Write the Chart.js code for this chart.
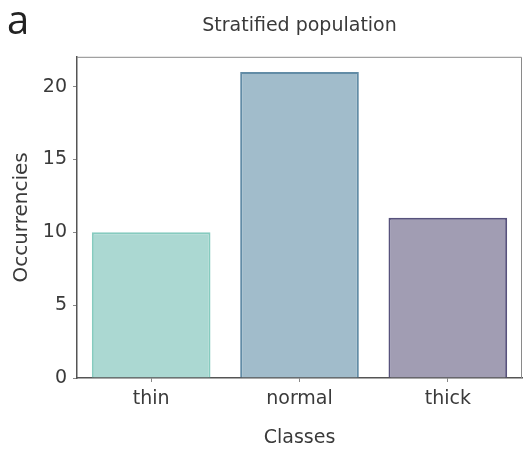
<!DOCTYPE html>
<html>
<head>
<meta charset="utf-8">
<script src="https://cdn.jsdelivr.net/npm/chart.js@4/dist/chart.umd.min.js"></script>
<style>
  body { margin: 0; background: #fff; }
  #wrap { width: 523px; height: 455px; }
</style>
</head>
<body>
<div id="wrap"><canvas id="strataChart" width="523" height="455"></canvas></div>
<script>
// values
const classes = ['thin', 'normal', 'thick'];
const occurrences = [10, 21, 11];
const yTicks = [0, 5, 10, 15, 20];

const fillColors = ['#abd8d2', '#a1bccb', '#a19db3'];
const edgeColors = ['#86cbbf', '#628ca6', '#57527c'];

const FONT = "'DejaVu Sans', sans-serif";
const TEXT = '#3a3a3a';

// panel letter + top/right spines
const framePlugin = {
    id: 'frame',
    afterDraw(chart) {
        const ctx = chart.ctx;
        const a = chart.chartArea;
        ctx.save();
        ctx.strokeStyle = '#8a8a8a';
        ctx.lineWidth = 1;
        ctx.beginPath();
        ctx.moveTo(a.left, a.top + 0.5);
        ctx.lineTo(a.right - 0.5, a.top + 0.5);
        ctx.lineTo(a.right - 0.5, a.bottom);
        ctx.stroke();
        ctx.fillStyle = '#222';
        ctx.font = "40px 'Open Sans', 'DejaVu Sans'";
        ctx.textBaseline = 'alphabetic';
        ctx.fillText('a', 7, 34);
        ctx.restore();
    }
};

document.addEventListener('DOMContentLoaded', () => {
    new Chart(document.getElementById('strataChart'), {
        type: 'bar',
        data: {
            labels: classes,
            datasets: [{
                data: occurrences,
                backgroundColor: fillColors,
                borderColor: edgeColors,
                borderWidth: 2,
                categoryPercentage: 1,
                barPercentage: 0.8
            }]
        },
        options: {
            responsive: false,
            animation: false,
            devicePixelRatio: 1,
            layout: { padding: { left: 0, right: 1, top: 0, bottom: 0 } },
            plugins: {
                legend: { display: false },
                tooltip: { enabled: false },
                title: {
                    display: true,
                    fullSize: false,
                    text: 'Stratified population',
                    color: TEXT,
                    font: { family: FONT, size: 19, weight: 'normal' },
                    padding: { top: 15, bottom: 19 }
                }
            },
            scales: {
                x: {
                    offset: true,
                    afterFit(scale) { scale.height = 77; },
                    grid: {
                        display: true,
                        offset: false,
                        drawOnChartArea: false,
                        drawTicks: true,
                        tickLength: 4,
                        color: '#888'
                    },
                    border: { display: true, color: '#555', width: 1.5 },
                    ticks: {
                        color: TEXT,
                        padding: 6,
                        font: { family: FONT, size: 19 }
                    },
                    title: {
                        display: true,
                        text: 'Classes',
                        color: TEXT,
                        font: { family: FONT, size: 19 },
                        padding: { top: 0, bottom: 6 }
                    }
                },
                y: {
                    min: 0,
                    max: 22.05,
                    afterFit(scale) { scale.width = 77; },
                    afterBuildTicks(scale) {
                        scale.ticks = yTicks.map(v => ({ value: v }));
                    },
                    grid: {
                        display: true,
                        drawOnChartArea: false,
                        drawTicks: true,
                        tickLength: 4,
                        color: '#888'
                    },
                    border: { display: true, color: '#555', width: 1.5 },
                    ticks: {
                        color: TEXT,
                        padding: 6,
                        font: { family: FONT, size: 19 }
                    },
                    title: {
                        display: true,
                        text: 'Occurrencies',
                        color: TEXT,
                        font: { family: FONT, size: 20 },
                        padding: { top: 10, bottom: 0 }
                    }
                }
            }
        },
        plugins: [framePlugin]
    });
});
</script>
</body>
</html>
